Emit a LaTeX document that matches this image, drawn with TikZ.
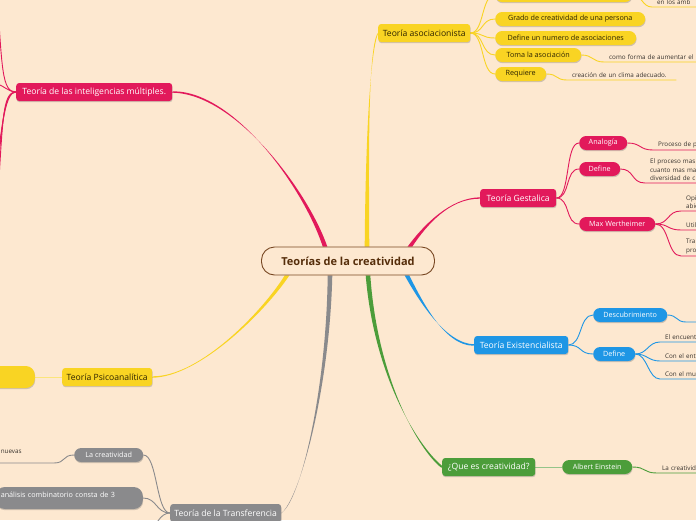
\documentclass[tikz,border=0pt]{standalone}
\usepackage{fontspec}
\setmainfont{Open Sans}
\usetikzlibrary{shadows,backgrounds}

\definecolor{bgc}{RGB}{253,232,208}
\definecolor{pinkc}{RGB}{226,25,91}
\definecolor{yellowc}{RGB}{249,212,35}
\definecolor{bluec}{RGB}{30,150,229}
\definecolor{greenc}{RGB}{76,157,58}
\definecolor{grayc}{RGB}{138,138,140}
\definecolor{rootline}{RGB}{120,72,35}
\definecolor{roottext}{RGB}{85,45,10}
\definecolor{darkc}{RGB}{45,35,0}
\definecolor{leafc}{RGB}{55,50,45}

% tapered main branch: colour, start, control 1, control 2, end
\newcommand\branchline[5]{%
  \fill[#1] ([xshift=-2.3pt]#2) .. controls ([xshift=-1.6pt]#3) and ([shift={(0.7pt,0.7pt)}]#4) .. ([shift={(0.7pt,0.7pt)}]#5)
    -- ([shift={(-0.7pt,-0.7pt)}]#5) .. controls ([shift={(-0.7pt,-0.7pt)}]#4) and ([xshift=1.6pt]#3) .. ([xshift=2.3pt]#2) -- cycle;}

\begin{document}
\begin{tikzpicture}[x=1pt,y=-1pt,
    shade/.style={drop shadow={shadow xshift=0.4pt,shadow yshift=-1.2pt,opacity=0.3,fill=black!60}},
    root/.style={draw=rootline,line width=0.9pt,fill=bgc,rounded corners=13pt,minimum width=173pt,minimum height=28pt,text=roottext,font=\fontsize{11}{13}\selectfont\bfseries},
    main/.style={shade,rounded corners=3pt,minimum height=18pt,inner xsep=3pt,anchor=west,font=\fontsize{8.6}{10}\selectfont},
    sub/.style={shade,rounded corners=7pt,minimum height=14pt,inner xsep=5pt,anchor=west,font=\fontsize{7.2}{8.5}\selectfont},
    leaf/.style={anchor=south west,align=left,inner xsep=5pt,inner ysep=2pt,text=leafc,font=\fontsize{6.3}{8.5}\selectfont},
    lnk/.style={line width=0.9pt}
]
\useasboundingbox (0,0) rectangle (696,520);
\clip (0,0) rectangle (696,520);

\node[root] (root) at (348,261) {Teorías de la creatividad};

\node[main,fill=pinkc,text=white,minimum width=156pt] (intel) at (16,92) {Teoría de las inteligencias múltiples.};
\node[main,fill=yellowc,text=darkc,minimum width=92pt] (asoc) at (378,33) {Teoría asociacionista};
\node[main,fill=pinkc,text=white,minimum width=76pt] (gest) at (480,198) {Teoría Gestalica};
\node[main,fill=bluec,text=white,minimum width=94pt] (exis) at (474,345) {Teoría Existencialista};
\node[main,fill=greenc,text=white,minimum width=93pt] (quees) at (442,467) {¿Que es creatividad?};
\node[main,fill=yellowc,text=darkc,minimum width=90pt] (psico) at (62,377) {Teoría Psicoanalítica};
\node[main,fill=grayc,text=white,minimum width=111pt] (trans) at (170,513) {Teoría de la Transferencia};

\node[sub,fill=yellowc,text=darkc,minimum width=137pt] (a0) at (495,-5) {};
\node[sub,fill=yellowc,text=darkc,minimum width=150pt] (a1) at (495,19) {Grado de creatividad de una persona};
\node[sub,fill=yellowc,text=darkc,minimum width=141pt] (a2) at (495,38) {Define un numero de asociaciones};
\node[sub,fill=yellowc,text=darkc,minimum width=86pt] (a3) at (495,55) {Toma la asociación};
\node[sub,fill=yellowc,text=darkc,minimum width=51pt] (a4) at (495,74) {Requiere};
\node[leaf,text width=60pt] (la0) at (652,7) {en los ámb};
\node[leaf,text width=100pt] (la3) at (604,62) {como forma de aumentar el};
\node[leaf,text width=99pt] (la4) at (567,80) {creación de un clima adecuado.};

\node[sub,fill=pinkc,text=white,minimum width=48pt] (g1) at (579,143) {Analogía};
\node[sub,fill=pinkc,text=white,minimum width=41pt] (g2) at (579,169) {Define};
\node[sub,fill=pinkc,text=white,minimum width=76pt] (g3) at (579,224) {Max Wertheimer};
\node[leaf,text width=50pt] (lg1) at (653,150) {Proceso de p};
\node[leaf,text width=60pt] (lg2) at (645,183) {El proceso mas\\cuanto mas ma\\diversidad de c};
\node[leaf,text width=30pt] (lg3) at (681,211) {Opi\\abie};
\node[leaf,text width=30pt] (lg4) at (681,230) {Util};
\node[leaf,text width=30pt] (lg5) at (681,256) {Tra\\pro};

\node[sub,fill=bluec,text=white,minimum width=74pt] (e1) at (593,315) {Descubrimiento};
\node[sub,fill=bluec,text=white,minimum width=42pt] (e2) at (593,354) {Define};
\node[leaf,text width=30pt] (le1) at (686,322) {};
\node[leaf,text width=45pt] (le2) at (660,342) {El encuent};
\node[leaf,text width=45pt] (le3) at (660,361) {Con el ent};
\node[leaf,text width=45pt] (le4) at (660,379) {Con el mu};

\node[sub,fill=greenc,text=white,minimum width=70pt] (einst) at (562,467) {Albert Einstein};
\node[leaf,text width=45pt] (lq1) at (657,473) {La creativid};

\node[sub,fill=yellowc,text=darkc,minimum width=60pt,minimum height=22pt,rounded corners=9pt,anchor=east] (p0) at (35,377) {};

\node[sub,fill=grayc,text=white,minimum width=69pt] (t1) at (74,455) {La creatividad};
\node[sub,fill=grayc,text=white,rounded corners=9pt,anchor=east,text width=137pt,align=left,minimum height=22pt] (t2) at (143,498) {análisis combinatorio consta de 3\\[-2pt]\mbox{}};
\node[leaf,anchor=south east,text width=48pt] (lt1) at (54,463) {nuevas\\[-1pt]\mbox{}};
\coordinate (t3) at (150,535);

\coordinate (s1) at ([xshift=-23pt]root.north);
\coordinate (s2) at ([xshift=19pt]root.north);
\coordinate (s3) at ([xshift=62pt]root.north);
\coordinate (s4) at ([xshift=59pt]root.south);
\coordinate (s5) at ([xshift=20pt]root.south);
\coordinate (s6) at ([xshift=-18pt]root.south);
\coordinate (s7) at ([xshift=-61pt]root.south);
\coordinate (i1) at (-3,-10);
\coordinate (i2) at (-4,84);
\coordinate (i3) at (-3,210);
\coordinate (i4) at (-6,215);
\coordinate (i5) at (-9,220);

\begin{scope}[on background layer]
\fill[bgc] (0,0) rectangle (696,520);

\branchline{pinkc}{s1}{306,190}{235,92}{intel.east}
\branchline{yellowc}{s2}{367,150}{369,50}{asoc.west}
\branchline{pinkc}{s3}{425,225}{450,198}{gest.west}
\branchline{bluec}{s4}{420,300}{445,345}{exis.west}
\branchline{greenc}{s5}{376,380}{420,450}{quees.west}
\branchline{grayc}{s6}{328,390}{300,500}{trans.east}
\branchline{yellowc}{s7}{265,310}{200,377}{psico.east}

\draw[lnk,pinkc] (intel.west) .. controls +(-14,0) and (2,70) .. (i1);
\draw[lnk,pinkc] (intel.west) .. controls +(-8,0) and +(6,0) .. (i2);
\draw[lnk,pinkc] (intel.west) .. controls +(-14,0) and (3,120) .. (i3);
\draw[lnk,pinkc] (intel.west) .. controls +(-13,0) and (2,125) .. (i4);
\draw[lnk,pinkc] (intel.west) .. controls +(-12,0) and (1,130) .. (i5);

\draw[lnk,yellowc] (asoc.east) .. controls +(14,0) and +(-14,0) .. (a0.west);
\draw[lnk,yellowc] (asoc.east) .. controls +(14,0) and +(-14,0) .. (a1.west);
\draw[lnk,yellowc] (asoc.east) .. controls +(14,0) and +(-14,0) .. (a2.west);
\draw[lnk,yellowc] (asoc.east) .. controls +(14,0) and +(-14,0) .. (a3.west);
\draw[lnk,yellowc] (asoc.east) .. controls +(14,0) and +(-14,0) .. (a4.west);
\draw[lnk,yellowc] (a0.east) .. controls +(10,0) and +(-10,0) .. (la0.south west) -- (la0.south east);
\draw[lnk,yellowc] (a3.east) .. controls +(12,0) and +(-12,0) .. (la3.south west) -- (la3.south east);
\draw[lnk,yellowc] (a4.east) .. controls +(12,0) and +(-12,0) .. (la4.south west) -- (la4.south east);

\draw[lnk,pinkc] (gest.east) .. controls +(14,0) and +(-14,0) .. (g1.west);
\draw[lnk,pinkc] (gest.east) .. controls +(14,0) and +(-14,0) .. (g2.west);
\draw[lnk,pinkc] (gest.east) .. controls +(14,0) and +(-14,0) .. (g3.west);
\draw[lnk,pinkc] (g1.east) .. controls +(14,0) and +(-14,0) .. (lg1.south west) -- (lg1.south east);
\draw[lnk,pinkc] (g2.east) .. controls +(14,0) and +(-14,0) .. (lg2.south west) -- (lg2.south east);
\draw[lnk,pinkc] (g3.east) .. controls +(14,0) and +(-14,0) .. (lg3.south west) -- (lg3.south east);
\draw[lnk,pinkc] (g3.east) .. controls +(14,0) and +(-14,0) .. (lg4.south west) -- (lg4.south east);
\draw[lnk,pinkc] (g3.east) .. controls +(14,0) and +(-14,0) .. (lg5.south west) -- (lg5.south east);

\draw[lnk,bluec] (exis.east) .. controls +(14,0) and +(-14,0) .. (e1.west);
\draw[lnk,bluec] (exis.east) .. controls +(14,0) and +(-14,0) .. (e2.west);
\draw[lnk,bluec] (e1.east) .. controls +(10,0) and +(-10,0) .. (le1.south west) -- (le1.south east);
\draw[lnk,bluec] (e2.east) .. controls +(12,0) and +(-12,0) .. (le2.south west) -- (le2.south east);
\draw[lnk,bluec] (e2.east) .. controls +(12,0) and +(-12,0) .. (le3.south west) -- (le3.south east);
\draw[lnk,bluec] (e2.east) .. controls +(12,0) and +(-12,0) .. (le4.south west) -- (le4.south east);

\draw[lnk,greenc!60] (quees.east) -- (einst.west);
\draw[lnk,greenc] (einst.east) .. controls +(14,0) and +(-14,0) .. (lq1.south west) -- (lq1.south east);

\draw[lnk,yellowc!60] (p0.east) -- (psico.west);

\draw[lnk,grayc] (trans.west) .. controls +(-14,0) and +(14,0) .. (t1.east);
\draw[lnk,grayc] (trans.west) .. controls +(-14,0) and +(14,0) .. (t2.east);
\draw[lnk,grayc] (trans.west) .. controls +(-10,0) and +(6,-10) .. (t3);
\draw[lnk,grayc] (t1.west) .. controls +(-12,0) and +(12,0) .. (lt1.south east) -- (lt1.south west);
\end{scope}
\end{tikzpicture}
\end{document}
